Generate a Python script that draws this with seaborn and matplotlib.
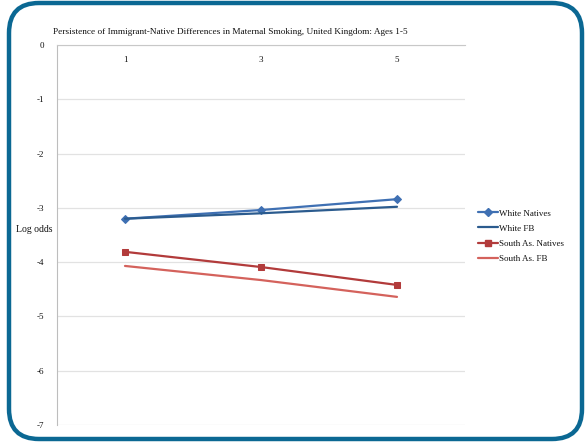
import matplotlib
matplotlib.use("Agg")
import matplotlib.pyplot as plt
import seaborn as sns
import pandas as pd
from matplotlib.patches import FancyBboxPatch
from matplotlib.transforms import IdentityTransform
from matplotlib.lines import Line2D

ages = ["1", "3", "5"]
white_natives = [-3.20, -3.04, -2.84]
white_fb = [-3.20, -3.10, -2.98]
south_as_natives = [-3.81, -4.09, -4.42]
south_as_fb = [-4.07, -4.33, -4.64]
series_names = ["White Natives", "White FB", "South As. Natives", "South As. FB"]
y_ticks = [0, -1, -2, -3, -4, -5, -6, -7]

sns.set_style("white")
plt.rcParams["font.family"] = ["Liberation Serif", "DejaVu Serif"]

rows = []
for name, vals in zip(series_names, [white_natives, white_fb, south_as_natives, south_as_fb]):
    for a, v in zip(ages, vals):
        rows.append({"Age": a, "Log odds": v, "Series": name})
df = pd.DataFrame(rows)

fig = plt.figure(figsize=(5.87, 4.42), dpi=100)
ax = fig.add_axes([57/587, 1-425/442, (465-57)/587, (425-45)/442])

styles = {
    "White Natives": dict(color="#3f70b3", marker="D", markersize=4.0),
    "White FB": dict(color="#2b5b8e", marker=None),
    "South As. Natives": dict(color="#b23b3b", marker="s", markersize=4.8),
    "South As. FB": dict(color="#d4625c", marker=None),
}
handles = []
for name in series_names:
    st = styles[name]
    sub = df[df["Series"] == name]
    kw = dict(color=st["color"], linewidth=1.6)
    if st["marker"]:
        kw.update(marker=st["marker"], markersize=st["markersize"],
                  markeredgecolor=st["color"], markerfacecolor=st["color"])
    sns.lineplot(data=sub, x="Age", y="Log odds", ax=ax, sort=False, **kw)
    handles.append(Line2D([], [], **kw))

ax.set_xlim(-0.5, 2.5)
ax.set_ylim(-7, 0)
ax.set_yticks(y_ticks)
ax.set_yticklabels([str(t) for t in y_ticks])
ax.yaxis.grid(True, color="#e2e2e2", linewidth=0.9)
ax.set_axisbelow(True)
for s in ["right", "bottom"]:
    ax.spines[s].set_visible(False)
ax.spines["left"].set_color("#bdbdbd")
ax.spines["top"].set_color("#c8c8c8")
ax.tick_params(axis="y", labelsize=6.5, colors="#111111", length=0, pad=9)
ax.tick_params(axis="x", top=True, labeltop=True, bottom=False, labelbottom=False,
               length=0, pad=-14, labelsize=6.5, colors="#111111")
ax.set_xlabel("")
ax.set_ylabel("")

fig.text(16/587, 1-229/442, "Log odds", fontsize=7, color="#111111", va="center", ha="left")
fig.text(230/587, 1-32/442,
         "Persistence of Immigrant-Native Differences in Maternal Smoking, United Kingdom: Ages 1-5",
         fontsize=6.7, color="#111111", ha="center", va="center")

leg = fig.legend(handles, series_names, loc="center left", bbox_to_anchor=(470/587, 1-236/442),
                 frameon=False, fontsize=6.5, handlelength=2.2, handletextpad=0.1,
                 labelspacing=0.75)
for t in leg.get_texts():
    t.set_color("#111111")

border = FancyBboxPatch((9, 3), 573, 436, boxstyle="round,pad=0,rounding_size=30",
                        transform=IdentityTransform(), fill=False,
                        edgecolor="#0b6893", linewidth=3.2)
fig.add_artist(border)

fig.savefig("out.png", dpi=100)
